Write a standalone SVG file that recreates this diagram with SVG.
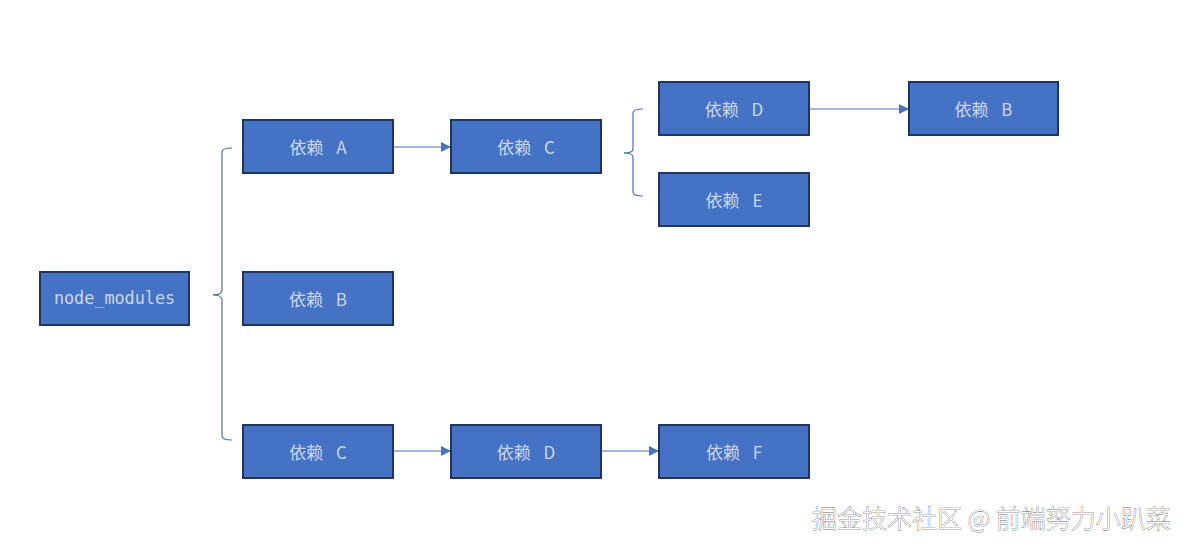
<svg xmlns="http://www.w3.org/2000/svg" width="1190" height="550" viewBox="0 0 1190 550">
<style>
.n rect{fill:#4472c4;stroke:#1f3560;stroke-width:2}
.n text{fill:#cdd7ea;font-family:"Noto Sans CJK SC","DejaVu Sans",sans-serif;font-size:17px;text-anchor:middle;dominant-baseline:central;word-spacing:9px}
.n text.mono{font-family:"DejaVu Sans Mono",monospace;font-size:16.8px;word-spacing:0}
.c path{fill:none;stroke:#4a72b8;stroke-width:1.2}
.wm{font-family:"Noto Sans CJK SC",sans-serif;font-size:25px;font-weight:300;fill:#fff;stroke:#6a6a6a;stroke-width:0.7px;paint-order:stroke}
</style>
<defs>
<marker id="ah" viewBox="0 0 10 10" refX="10" refY="5" markerWidth="10" markerHeight="10" markerUnits="userSpaceOnUse" orient="auto">
<path d="M0,0 L10,5 L0,10 Z" fill="#4472c4"/>
</marker>
</defs>
<rect width="1190" height="550" fill="#fff"/>
<g class="c" id="connectors">
<path d="M213,295 Q222,295 222,290 L222,152 Q222,148 232,148"/>
<path d="M213,295 Q222,295 222,300 L222,436 Q222,440 232,440"/>
<path d="M624,153 Q633,153 633,149 L633,113 Q633,109 643,109"/>
<path d="M624,153 Q633,153 633,157 L633,192 Q633,196 643,196"/>
<path d="M393,147 L451,147" marker-end="url(#ah)"/>
<path d="M809,109 L909,109" marker-end="url(#ah)"/>
<path d="M393,451 L451,451" marker-end="url(#ah)"/>
<path d="M601,451 L659,451" marker-end="url(#ah)"/>
</g>
<g class="n" id="node_modules"><rect x="40" y="272" width="149" height="53"/><text class="mono" x="114.5" y="298">node_modules</text></g>
<g class="n" id="depA"><rect x="243" y="120" width="150" height="53"/><text x="318" y="146">依赖 A</text></g>
<g class="n" id="depB"><rect x="243" y="272" width="150" height="53"/><text x="318" y="298">依赖 B</text></g>
<g class="n" id="depC2"><rect x="243" y="425" width="150" height="53"/><text x="318" y="451">依赖 C</text></g>
<g class="n" id="depC1"><rect x="451" y="120" width="150" height="53"/><text x="526" y="146">依赖 C</text></g>
<g class="n" id="depD1"><rect x="659" y="82" width="150" height="53"/><text x="734" y="108">依赖 D</text></g>
<g class="n" id="depE"><rect x="659" y="173" width="150" height="53"/><text x="734" y="199">依赖 E</text></g>
<g class="n" id="depB2"><rect x="909" y="82" width="149" height="53"/><text x="983.5" y="108">依赖 B</text></g>
<g class="n" id="depD2"><rect x="451" y="425" width="150" height="53"/><text x="526" y="451">依赖 D</text></g>
<g class="n" id="depF"><rect x="659" y="425" width="150" height="53"/><text x="734" y="451">依赖 F</text></g>
<text class="wm" x="812" y="528">掘金技术社区 @ 前端努力小趴菜</text>
</svg>
